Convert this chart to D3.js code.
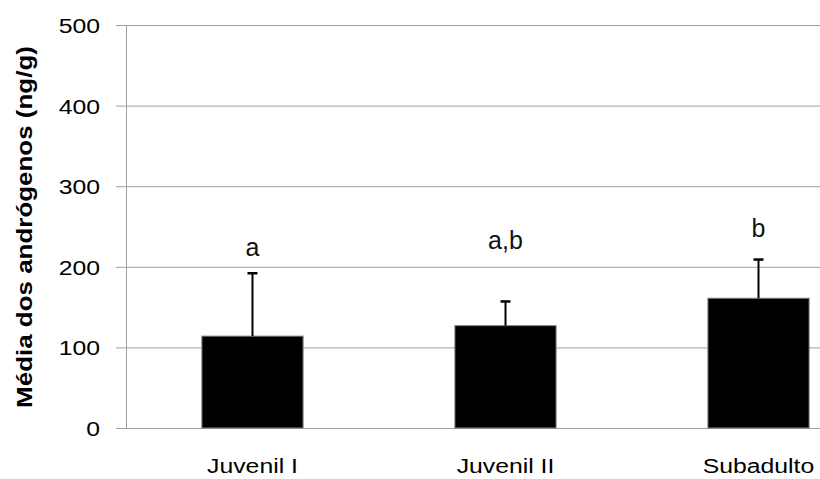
<!DOCTYPE html>
<html>
<head>
<meta charset="utf-8">
<script src="https://cdn.jsdelivr.net/npm/d3@7"></script>
<style>
  body { margin: 0; background: #fff; }
  text { font-family: "Liberation Sans", Arial, sans-serif; }
</style>
</head>
<body>
<div id="chart"></div>
<script>
const categories = ['Juvenil I', 'Juvenil II', 'Subadulto'];
const means = [114, 127, 161];
const errUpper = [192, 157, 209];
const letters = ['a', 'a,b', 'b'];
const letterY = [213, 222, 237];
const yTicks = [0, 100, 200, 300, 400, 500];

const width = 820;
const height = 479;
const margin = {top: 25, left: 126, bottom: 51};
const stretch = 1.18; // the original's text is a bit wide

const svg = d3.select('#chart')
    .append('svg')
    .attr('width', width)
    .attr('height', height);

// plot runs past the right edge, like the original (cropped)
const x = d3.scaleBand()
    .domain(categories)
    .range([margin.left, margin.left + 759])
    .paddingInner(0.6)
    .paddingOuter(0.3);

const y = d3.scaleLinear()
    .domain([0, 500])
    .range([height - margin.bottom, margin.top]);

// gridlines
svg.append('g')
    .selectAll('line')
    .data(yTicks)
    .join('line')
    .attr('x1', margin.left - 10)
    .attr('x2', width)
    .attr('y1', d => y(d) + 0.5)
    .attr('y2', d => y(d) + 0.5)
    .attr('stroke', '#a0a0a0')
    .attr('stroke-width', 1);

svg.append('line')
    .attr('x1', margin.left + 0.5)
    .attr('x2', margin.left + 0.5)
    .attr('y1', y(500))
    .attr('y2', y(0))
    .attr('stroke', '#a0a0a0');

svg.append('g')
    .selectAll('text')
    .data(yTicks)
    .join('text')
    .attr('transform', d => `translate(100,${y(d) + 8}) scale(${stretch},1)`)
    .attr('text-anchor', 'end')
    .attr('font-size', 21)
    .attr('fill', '#000')
    .text(d => d);

// bars
svg.append('g')
    .selectAll('rect')
    .data(categories)
    .join('rect')
    .attr('x', d => x(d))
    .attr('y', (d, i) => y(means[i]))
    .attr('width', x.bandwidth())
    .attr('height', (d, i) => y(0) - y(means[i]))
    .attr('fill', '#000')
    .attr('stroke', '#808080')
    .attr('stroke-width', 1);

// error bars
const eb = svg.append('g');
categories.forEach((c, i) => {
    const cx = x(c) + x.bandwidth() / 2;
    eb.append('line')
        .attr('x1', cx).attr('x2', cx)
        .attr('y1', y(means[i])).attr('y2', y(errUpper[i]))
        .attr('stroke', '#000').attr('stroke-width', 2);
    eb.append('line')
        .attr('x1', cx - 5).attr('x2', cx + 5)
        .attr('y1', y(errUpper[i])).attr('y2', y(errUpper[i]))
        .attr('stroke', '#000').attr('stroke-width', 2.5);
});

// significance letters
svg.append('g')
    .selectAll('text')
    .data(categories)
    .join('text')
    .attr('x', d => x(d) + x.bandwidth() / 2)
    .attr('y', (d, i) => y(letterY[i]))
    .attr('text-anchor', 'middle')
    .attr('font-size', 25)
    .attr('font-family', '"Noto Sans", "Open Sans", sans-serif')
    .attr('fill', '#111')
    .text((d, i) => letters[i]);

// category labels
svg.append('g')
    .selectAll('text')
    .data(categories)
    .join('text')
    .attr('transform', d => `translate(${x(d) + x.bandwidth() / 2},473) scale(${stretch},1)`)
    .attr('text-anchor', 'middle')
    .attr('font-size', 21)
    .text(d => d);

svg.append('text')
    .attr('transform', `translate(32,227) rotate(-90) scale(${stretch},1)`)
    .attr('text-anchor', 'middle')
    .attr('font-size', 22)
    .attr('font-weight', 'bold')
    .text('Média dos andrógenos (ng/g)');
</script>
</body>
</html>
